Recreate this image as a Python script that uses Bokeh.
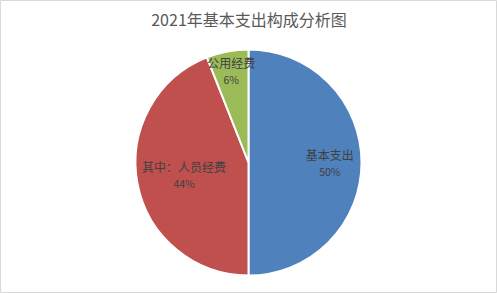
import math

from bokeh.core.properties import value
from bokeh.embed import file_html
from bokeh.models import ColumnDataSource, Range1d
from bokeh.plotting import figure
from bokeh.resources import INLINE

# Expenditure breakdown, 2021 (share of basic expenditure, %)
title_text = "2021年基本支出构成分析图"
categories = ["基本支出", "其中：人员经费", "公用经费"]
shares = [50, 44, 6]
colors = ["#4F81BD", "#C0504D", "#9BBB59"]

W, H = 497, 293
cx, cy = 248, H - 162      # pie centre (y measured upward)
radius = 113
# where each label sits along its slice's mid-angle, as a fraction of the radius
label_frac = [0.72, 0.58, 0.82]
font = "Noto Sans CJK SC"

total = float(sum(shares))
starts, ends, mids = [], [], []
acc = 0.0
for v in shares:
    a0 = math.pi / 2 - acc / total * 2 * math.pi
    acc += v
    a1 = math.pi / 2 - acc / total * 2 * math.pi
    starts.append(a0)
    ends.append(a1)
    mids.append((a0 + a1) / 2)

pct = [f"{round(v / total * 100)}%" for v in shares]
lx = [cx + f * radius * math.cos(m) for f, m in zip(label_frac, mids)]
ly = [cy + f * radius * math.sin(m) for f, m in zip(label_frac, mids)]

src = ColumnDataSource(dict(
    cat=categories, share=shares, color=colors,
    start=starts, end=ends, lx=lx, ly=ly, pct=pct,
))

p = figure(width=W, height=H, output_backend="svg", toolbar_location=None,
           x_range=Range1d(0, W), y_range=Range1d(0, H),
           min_border=0, match_aspect=False)
p.axis.visible = False
p.grid.visible = False
p.outline_line_color = "#D9D9D9"
p.outline_line_width = 1
p.background_fill_color = "white"
p.border_fill_color = "white"

p.wedge(x=cx, y=cy, radius=radius, start_angle="start", end_angle="end",
        direction="clock", fill_color="color", line_color="white",
        line_width=2, source=src)

# category names and percentages inside the slices
p.text(x="lx", y="ly", text="cat", source=src, text_align="center",
       text_baseline="bottom", text_font=value(font), text_font_size="12px",
       text_color="#404040")
p.text(x="lx", y="ly", text="pct", source=src, text_align="center",
       text_baseline="top", text_font=value(font), text_font_size="10.5px",
       text_color="#404040", y_offset=1)

# chart title
p.text(x=[W / 2], y=[H - 18], text=[title_text], text_align="center",
       text_baseline="middle", text_font=value(font), text_font_size="16px",
       text_color="#595959")

open("out.html", "w").write(file_html(p, INLINE))
